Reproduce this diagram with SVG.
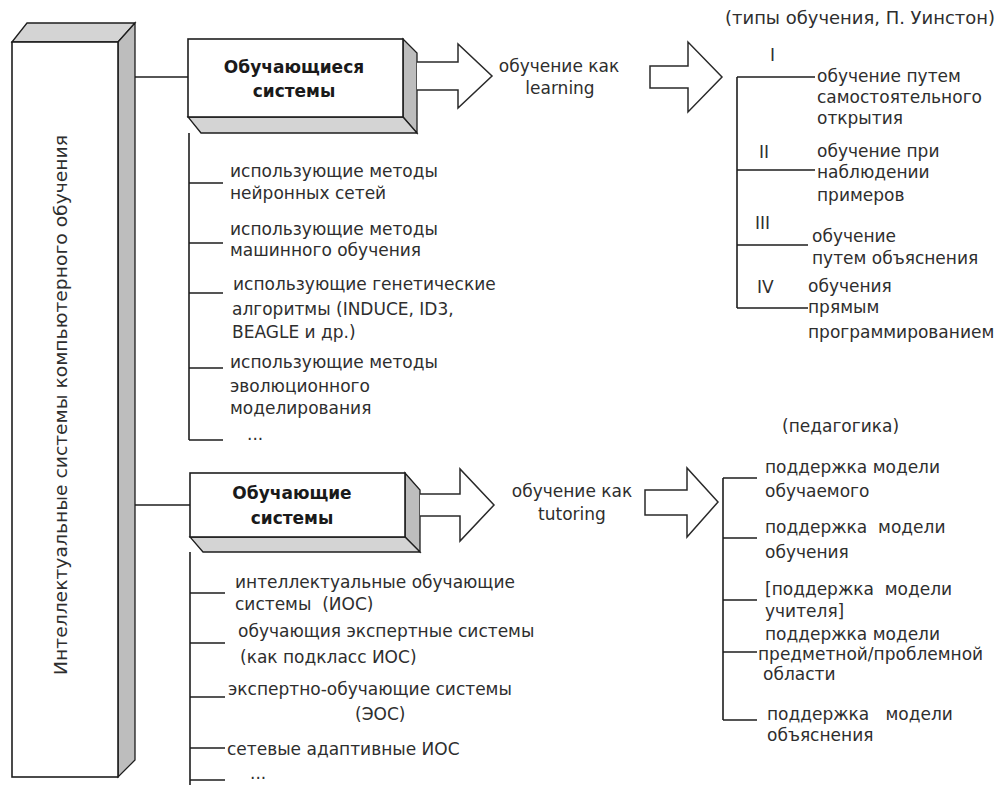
<svg xmlns="http://www.w3.org/2000/svg" width="999" height="785" viewBox="0 0 999 785">
<style>
.t{font-family:"DejaVu Sans",Verdana,sans-serif;font-size:17px;fill:#2e2e2e;white-space:pre}
.b{font-family:"DejaVu Sans",Verdana,sans-serif;font-size:17px;font-weight:bold;fill:#1a1a1a;text-anchor:middle}
.m{text-anchor:middle}
.ln{stroke:#1e1e1e;stroke-width:1.6;fill:none}
.face{fill:#fff;stroke:#1e1e1e;stroke-width:1.6}
.side{fill:#bdbdbd;stroke:#1e1e1e;stroke-width:1.3}
.top{fill:#d4d4d4;stroke:#1e1e1e;stroke-width:1.3}
.arr{fill:#fff;stroke:#2a2a2a;stroke-width:1.5;stroke-linejoin:miter}
</style>
<rect width="999" height="785" fill="#fff"/>

<g id="root">
<polygon class="top" points="12,42 27,23 135,23 118,42"/>
<polygon class="side" points="118,42 135,23 135,760 118,777"/>
<rect class="face" x="12" y="42" width="106" height="735"/>
<text class="t m" style="font-size:18px" transform="translate(67,405) rotate(-90)" textLength="540" lengthAdjust="spacingAndGlyphs">Интеллектуальные системы компьютерного обучения</text>
</g>

<g id="learning-systems">
<polygon class="side" points="403,39 417,53 417,133 403,117"/>
<polygon class="top" points="188,117 403,117 417,133 201,133"/>
<rect class="face" x="188" y="39" width="215" height="78"/>
<text class="b" x="294" y="73">Обучающиеся</text>
<text class="b" x="294" y="97">системы</text>
</g>

<g id="tutoring-systems">
<polygon class="side" points="405,473 420,490 420,552 405,537"/>
<polygon class="top" points="190,537 405,537 420,552 203,552"/>
<rect class="face" x="190" y="473" width="215" height="64"/>
<text class="b" x="292" y="499">Обучающие</text>
<text class="b" x="292" y="524">системы</text>
</g>

<g id="learning-list">
<text class="t" x="230" y="177">использующие методы</text>
<text class="t" x="230" y="199">нейронных сетей</text>
<text class="t" x="230" y="235">использующие методы</text>
<text class="t" x="230" y="256">машинного обучения</text>
<text class="t" x="233" y="290">использующие генетические</text>
<text class="t" x="232" y="315">алгоритмы (INDUCE, ID3,</text>
<text class="t" x="232" y="338">BEAGLE и др.)</text>
<text class="t" x="230" y="368">использующие методы</text>
<text class="t" x="230" y="392">эволюционного</text>
<text class="t" x="230" y="414">моделирования</text>
<text class="t" x="247" y="440">...</text>
</g>

<g id="learning-label">
<text class="t m" x="559" y="72">обучение как</text>
<text class="t m" x="560" y="94">learning</text>
</g>

<g id="winston-types">
<text class="t" x="725" y="24" textLength="270" lengthAdjust="spacingAndGlyphs">(типы обучения, П. Уинстон)</text>
<text class="t" x="770" y="61">I</text>
<text class="t" x="817" y="82">обучение путем</text>
<text class="t" x="817" y="103">самостоятельного</text>
<text class="t" x="817" y="124">открытия</text>
<text class="t" x="759" y="158">II</text>
<text class="t" x="817" y="157">обучение при</text>
<text class="t" x="817" y="178">наблюдении</text>
<text class="t" x="817" y="201">примеров</text>
<text class="t" x="755" y="229">III</text>
<text class="t" x="812" y="242">обучение</text>
<text class="t" x="812" y="264">путем объяснения</text>
<text class="t" x="757" y="293">IV</text>
<text class="t" x="808" y="292">обучения</text>
<text class="t" x="808" y="313">прямым</text>
<text class="t" x="808" y="338">программированием</text>
</g>

<g id="tutoring-list">
<text class="t" x="235" y="588">интеллектуальные обучающие</text>
<text class="t" x="235" y="610" xml:space="preserve">системы  (ИОС)</text>
<text class="t" x="238" y="637">обучающия экспертные системы</text>
<text class="t" x="240" y="663">(как подкласс ИОС)</text>
<text class="t" x="228" y="695">экспертно-обучающие системы</text>
<text class="t" x="355" y="720">(ЭОС)</text>
<text class="t" x="227" y="755">сетевые адаптивные ИОС</text>
<text class="t" x="250" y="779">...</text>
</g>

<g id="tutoring-label">
<text class="t m" x="572" y="497">обучение как</text>
<text class="t m" x="572" y="520">tutoring</text>
</g>

<g id="pedagogy">
<text class="t" x="782" y="432">(педагогика)</text>
<text class="t" x="765" y="473">поддержка модели</text>
<text class="t" x="765" y="497">обучаемого</text>
<text class="t" x="765" y="533" xml:space="preserve">поддержка  модели</text>
<text class="t" x="765" y="558">обучения</text>
<text class="t" x="765" y="595" xml:space="preserve">[поддержка  модели</text>
<text class="t" x="765" y="617">учителя]</text>
<text class="t" x="765" y="640">поддержка модели</text>
<text class="t" x="758" y="660">предметной/проблемной</text>
<text class="t" x="763" y="680">области</text>
<text class="t" x="767" y="720" xml:space="preserve">поддержка   модели</text>
<text class="t" x="767" y="741">объяснения</text>
</g>

<g id="connectors">
<path class="ln" d="M135,77 H188"/>
<path class="ln" d="M135,505 H190"/>
<path class="ln" d="M189,133 V440 M189,183 H223 M189,243 H223 M189,293 H223 M189,368 H223 M189,440 H223"/>
<path class="ln" d="M190,552 V785 M190,593 H225 M190,643 H225 M190,697 H225 M190,748 H225 M190,780 H225"/>
<path class="ln" d="M737,77 V308 M737,77 H815 M737,170 H815 M737,245 H808 M737,308 H808"/>
<path class="ln" d="M723,478 V720 M723,478 H757 M723,538 H757 M723,600 H757 M723,652 H757 M723,720 H757"/>
<path class="arr" d="M417,62 H458 V44 L492,76 L458,108 V90 H417"/>
<path class="arr" d="M650,66 H688 V42 L722,77 L688,112 V88 H650 Z"/>
<path class="arr" d="M420,494 H460 V469 L494,505 L460,541 V516 H420"/>
<path class="arr" d="M645,490 H687 V468 L718,502 L687,537 V515 H645 Z"/>
</g>
</svg>
